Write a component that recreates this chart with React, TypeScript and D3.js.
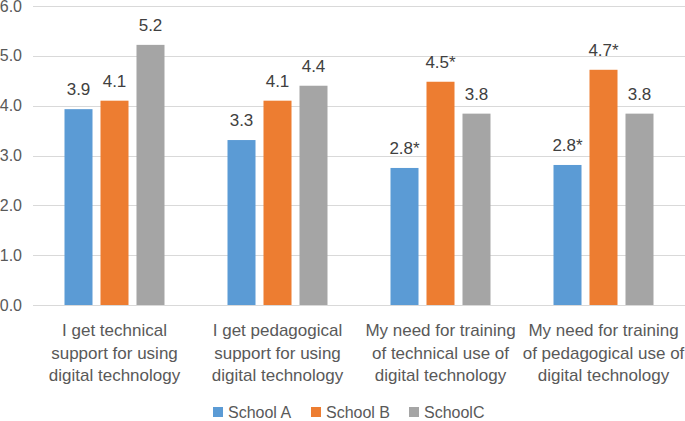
import * as d3 from 'd3'
import React, { useRef, useEffect } from 'react'

const categories = [
  ['I get technical', 'support for using', 'digital technology'],
  ['I get pedagogical', 'support for using', 'digital technology'],
  ['My need for training', 'of technical use of', 'digital technology'],
  ['My need for training', 'of pedagogical use of', 'digital technology'],
]
const series = ['School A', 'School B', 'SchoolC']
const colors = ['#5B9BD5', '#ED7D31', '#A5A5A5']
const schoolA = [3.93, 3.31, 2.75, 2.81]
const schoolB = [4.1, 4.1, 4.48, 4.72]
const schoolC = [5.22, 4.4, 3.84, 3.84]
const labelsA = ['3.9', '3.3', '2.8*', '2.8*']
const labelsB = ['4.1', '4.1', '4.5*', '4.7*']
const labelsC = ['5.2', '4.4', '3.8', '3.8']
const yTicks = [0, 1, 2, 3, 4, 5, 6]

const width = 685
const height = 421
const font = "'Liberation Sans', Arial, sans-serif"

export default function App() {
  const svgRef = useRef(null)

  function renderChart() {
    const svg = d3.select(svgRef.current)
    svg.selectAll('*').remove()
    svg.attr('width', width).attr('height', height)

    const values = [schoolA, schoolB, schoolC]
    const labels = [labelsA, labelsB, labelsC]

    const y = d3.scaleLinear().domain([0, 6]).range([305, 6])
    const x0 = d3.scaleBand<number>().domain(d3.range(categories.length)).range([33, 685])
    const x1 = d3
      .scaleBand<number>()
      .domain(d3.range(series.length))
      .range([0, x0.bandwidth()])
      .paddingInner(0.222)
      .paddingOuter(0.875)

    // gridlines
    svg
      .append('g')
      .selectAll('line')
      .data(yTicks)
      .join('line')
      .attr('x1', 33)
      .attr('x2', 685)
      .attr('y1', (d) => Math.round(y(d)) + 0.5)
      .attr('y2', (d) => Math.round(y(d)) + 0.5)
      .attr('stroke', '#d9d9d9')
      .attr('stroke-width', 1)

    svg
      .append('g')
      .selectAll('text')
      .data(yTicks)
      .join('text')
      .text((d) => d.toFixed(1))
      .attr('x', 22)
      .attr('y', (d) => y(d) + 5.5)
      .attr('text-anchor', 'end')
      .attr('font-family', font)
      .attr('font-size', '16px')
      .attr('fill', '#595959')

    const groups = svg
      .append('g')
      .selectAll('g')
      .data(categories.map((_, i) => i))
      .join('g')
      .attr('transform', (i) => `translate(${x0(i)},0)`)

    groups
      .selectAll('rect')
      .data((i) => series.map((_, s) => ({ s, v: values[s][i] })))
      .join('rect')
      .attr('x', (d) => x1(d.s)!)
      .attr('width', x1.bandwidth())
      .attr('y', (d) => y(d.v))
      .attr('height', (d) => y(0) - y(d.v))
      .attr('fill', (d) => colors[d.s])

    groups
      .selectAll('text.value')
      .data((i) => series.map((_, s) => ({ s, v: values[s][i], t: labels[s][i] })))
      .join('text')
      .attr('class', 'value')
      .text((d) => d.t)
      .attr('x', (d) => x1(d.s)! + x1.bandwidth() / 2)
      .attr('y', (d) => y(d.v) - 14)
      .attr('text-anchor', 'middle')
      .attr('font-family', font)
      .attr('font-size', '17px')
      .attr('fill', '#404040')

    groups
      .append('text')
      .attr('text-anchor', 'middle')
      .attr('font-family', font)
      .attr('font-size', '17px')
      .attr('fill', '#595959')
      .selectAll('tspan')
      .data((i) => categories[i])
      .join('tspan')
      .attr('x', x0.bandwidth() / 2)
      .attr('y', (_, j) => 336 + j * 22.5)
      .text((d) => d)

    // legend
    const legendX = [213, 311, 409]
    const legend = svg
      .append('g')
      .selectAll('g')
      .data(series)
      .join('g')
      .attr('transform', (_, i) => `translate(${legendX[i]},407)`)
    legend
      .append('rect')
      .attr('width', 10)
      .attr('height', 10)
      .attr('fill', (_, i) => colors[i])
    legend
      .append('text')
      .text((d) => d)
      .attr('x', 15)
      .attr('y', 11)
      .attr('font-family', font)
      .attr('font-size', '16px')
      .attr('fill', '#595959')
  }

  useEffect(() => {
    renderChart()
  }, [])

  return (
    <div style={{ position: 'absolute', left: 0, top: 0 }}>
      <svg ref={svgRef} style={{ display: 'block' }} />
    </div>
  )
}
